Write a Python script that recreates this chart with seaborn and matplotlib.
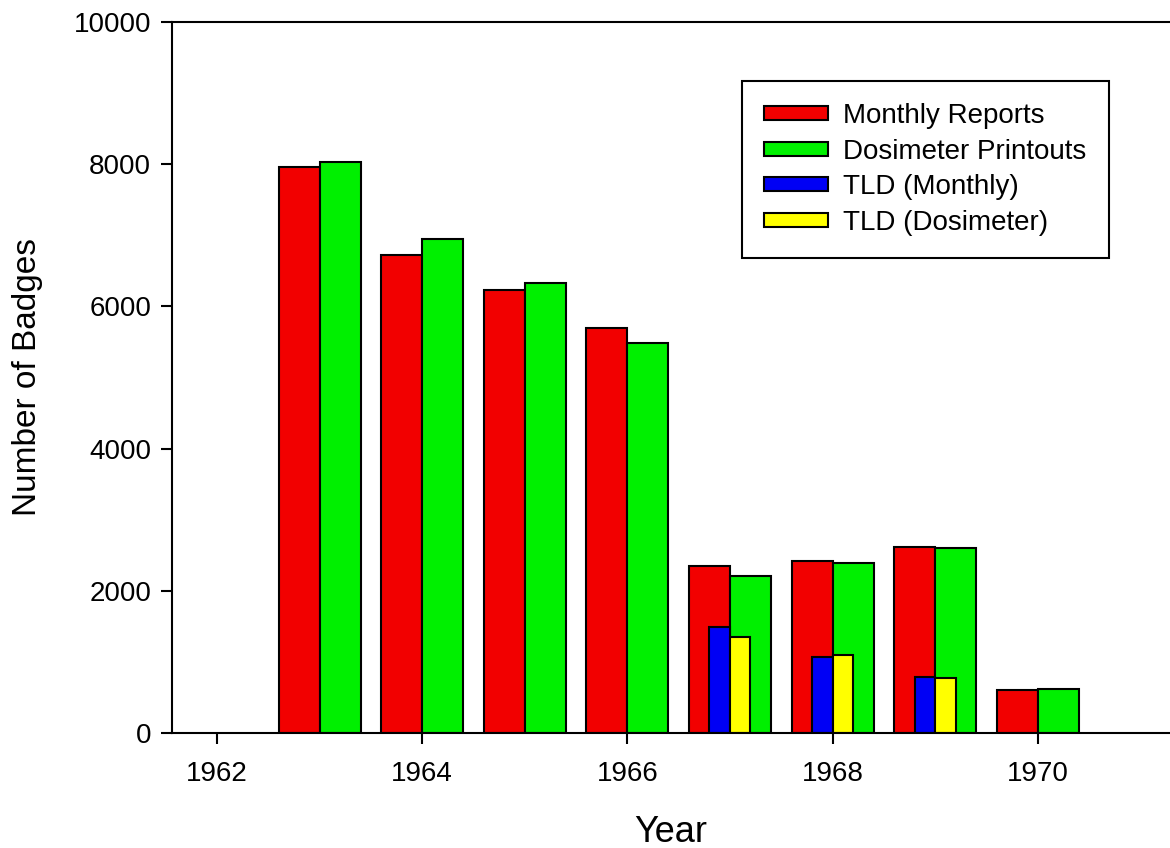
import pandas as pd
import matplotlib
matplotlib.use("Agg")
import matplotlib.pyplot as plt
import seaborn as sns

# data
years = [1963, 1964, 1965, 1966, 1967, 1968, 1969, 1970]
monthly_reports = [7960, 6720, 6230, 5700, 2350, 2420, 2615, 605]
dosimeter_printouts = [8030, 6950, 6330, 5485, 2210, 2390, 2600, 620]

tld_years = [1967, 1968, 1969]
tld_monthly = [1490, 1070, 790]
tld_dosimeter = [1350, 1100, 775]

main_labels = ["Monthly Reports", "Dosimeter Printouts"]
tld_labels = ["TLD (Monthly)", "TLD (Dosimeter)"]

df_main = pd.DataFrame({
    "Year": years * 2,
    "Badges": monthly_reports + dosimeter_printouts,
    "Serie": [main_labels[0]] * len(years) + [main_labels[1]] * len(years),
})
df_tld = pd.DataFrame({
    "Year": tld_years * 2,
    "Badges": tld_monthly + tld_dosimeter,
    "Serie": [tld_labels[0]] * len(tld_years) + [tld_labels[1]] * len(tld_years),
})

sns.set_style("ticks")
plt.rcParams["font.family"] = ["Liberation Sans", "DejaVu Sans"]
plt.rcParams["text.color"] = "black"
plt.rcParams["axes.labelcolor"] = "black"

fig = plt.figure(figsize=(11.7, 8.48), dpi=100)
ax = fig.add_axes([0.147, 0.1356, 0.853, 0.8385])

sns.barplot(data=df_main, x="Year", y="Badges", hue="Serie", hue_order=main_labels,
            palette=["#f20000", "#00f000"], native_scale=True, width=0.8,
            saturation=1, edgecolor="black", linewidth=1.5, errorbar=None, ax=ax)
sns.barplot(data=df_tld, x="Year", y="Badges", hue="Serie", hue_order=tld_labels,
            palette=["#0000f5", "#ffff00"], native_scale=True, width=0.4,
            saturation=1, edgecolor="black", linewidth=1.5, errorbar=None, ax=ax)

ax.set_xlim(1961.56, 1971.29)
ax.set_ylim(0, 10000)
ax.set_xticks([1962, 1964, 1966, 1968, 1970])
ax.set_xticklabels(["1962", "1964", "1966", "1968", "1970"])
ax.set_yticks([0, 2000, 4000, 6000, 8000, 10000])
ax.tick_params(axis="both", direction="out", length=8, width=1.5, labelsize=20,
               colors="black", labelcolor="black")
ax.tick_params(axis="x", pad=12)
ax.tick_params(axis="y", pad=7)

for side in ["left", "bottom", "top"]:
    ax.spines[side].set_linewidth(1.5)
    ax.spines[side].set_color("black")
ax.spines["right"].set_visible(False)

ax.set_xlabel("Year", fontsize=26, labelpad=20)
ax.set_ylabel("Number of Badges", fontsize=24, labelpad=22)

handles, labels = ax.get_legend_handles_labels()
leg = ax.legend(handles, labels, loc="upper left", bbox_to_anchor=(0.571, 0.917),
                fontsize=20, frameon=True, fancybox=False, framealpha=1,
                handlelength=2.3, handleheight=0.4, labelspacing=0.34,
                borderpad=0.8, borderaxespad=0, handletextpad=0.55)
leg.get_frame().set_linewidth(1.5)
leg.get_frame().set_edgecolor("black")
for t in leg.get_texts():
    t.set_color("black")

fig.savefig("out.png", dpi=100)
